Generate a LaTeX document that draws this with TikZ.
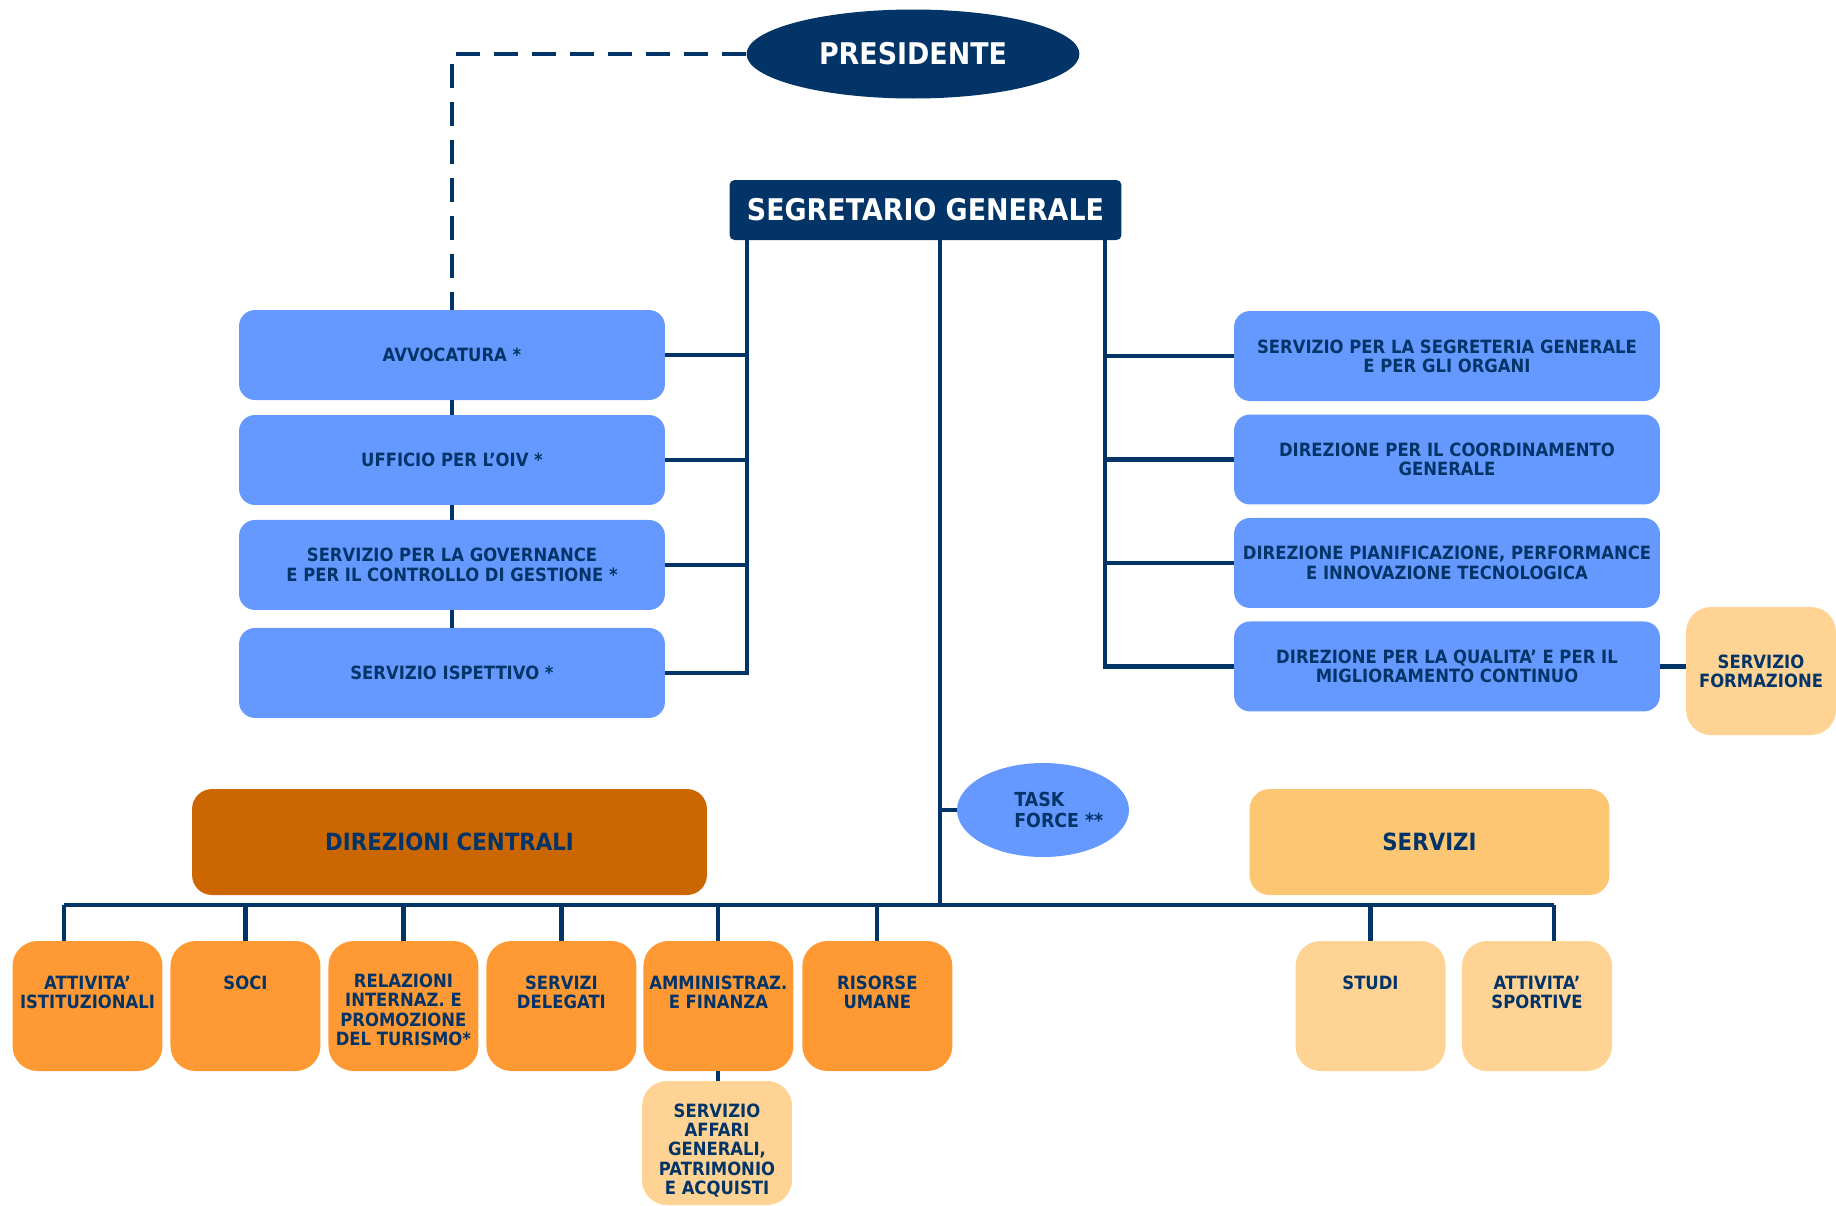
\documentclass[tikz,border=0pt]{standalone}
\usepackage{fontspec}
\setmainfont{DejaVu Sans}[FakeStretch=0.9]
\usetikzlibrary{positioning,shapes.geometric}
\definecolor{navy}{RGB}{3,52,104}
\definecolor{azzurro}{RGB}{102,153,255}
\definecolor{arancio}{RGB}{255,153,51}
\definecolor{ruggine}{RGB}{204,102,0}
\definecolor{sabbia}{RGB}{253,198,114}
\definecolor{crema}{RGB}{254,211,148}

\begin{document}
\begin{tikzpicture}[x=0.02cm,y=-0.02cm,on grid,
  every node/.style={font=\bfseries\fontsize{10.4}{11}\selectfont,text=navy,align=center},
  vertice/.style={fill=navy,text=white,font=\bfseries\fontsize{17}{20}\selectfont,inner sep=0pt},
  ufficio/.style={fill=azzurro,rounded corners=0.32cm,minimum width=8.52cm,minimum height=1.8cm,inner sep=1pt},
  settore/.style={rounded corners=0.5cm,minimum width=3cm,minimum height=2.6cm,inner sep=0pt},
  area/.style={rounded corners=0.4cm,minimum width=#1,minimum height=2.12cm,font=\bfseries\fontsize{13.5}{16}\selectfont},
  etichetta/.style={anchor=north,inner sep=0pt},
  conn/.style={draw=navy,line width=2.4pt},
  tratteggio/.style={conn,dash pattern=on 0.48cm off 0.28cm}]
   \useasboundingbox (0,0) rectangle (1836,1205);

   \node[vertice,ellipse,minimum width=6.66cm,minimum height=1.78cm] (pres) at (913,54) {PRESIDENTE};
   \node[vertice,rounded corners=0.1cm,minimum width=7.84cm,minimum height=1.2cm] (sg) at (925.5,210) {SEGRETARIO GENERALE};

   \node[ufficio] (avv) at (452,355) {AVVOCATURA *};
   \node[ufficio] (oiv) [below=2.1cm of avv] {UFFICIO PER L’OIV *};
   \node[ufficio] (gov) [below=2.1cm of oiv] {SERVIZIO PER LA GOVERNANCE\\E PER IL CONTROLLO DI GESTIONE *};
   \node[ufficio] (isp) [below=2.16cm of gov] {SERVIZIO ISPETTIVO *};

   \node[ufficio] (segr) at (1447,356) {SERVIZIO PER LA SEGRETERIA GENERALE\\E PER GLI ORGANI};
   \node[ufficio] (coord) [below=2.07cm of segr] {DIREZIONE PER IL COORDINAMENTO\\GENERALE};
   \node[ufficio] (pian) [below=2.07cm of coord] {DIREZIONE PIANIFICAZIONE, PERFORMANCE\\E INNOVAZIONE TECNOLOGICA};
   \node[ufficio] (qual) [below=2.07cm of pian] {DIREZIONE PER LA QUALITA’ E PER IL\\MIGLIORAMENTO CONTINUO};
   \node[settore,fill=crema,minimum height=2.56cm] (form) at (1761,671) {SERVIZIO\\FORMAZIONE};

   \node[ellipse,fill=azzurro,minimum width=3.44cm,minimum height=1.88cm] (tf) at (1043,810) {};
   \node[anchor=west,align=left,inner sep=0pt,font=\bfseries\fontsize{11}{12}\selectfont] (tf-t) at ([xshift=-0.58cm]tf.center) {TASK\\FORCE **};

   \node[area=10.3cm,fill=ruggine] (dc) at (449.5,842) {DIREZIONI CENTRALI};
   \node[area=7.2cm,fill=sabbia] (serv) at (1429.5,842) {SERVIZI};

   \node[settore,fill=arancio] (ist) at (87.5,1006) {};
   \node[settore,fill=arancio] (soci) [right=3.16cm of ist] {};
   \node[settore,fill=arancio] (rel) [right=3.16cm of soci] {};
   \node[settore,fill=arancio] (del) [right=3.16cm of rel] {};
   \node[settore,fill=arancio] (amm) [right=3.14cm of del] {};
   \node[settore,fill=arancio] (ru) [right=3.18cm of amm] {};
   \node[settore,fill=crema,minimum height=2.48cm] (aff) at (717,1143) {};
   \node[settore,fill=crema] (studi) at (1370.5,1006) {};
   \node[settore,fill=crema] (sport) [right=3.33cm of studi] {};

   \node[etichetta] (ist-t) at ([yshift=-0.7cm]ist.north) {ATTIVITA’\\ISTITUZIONALI};
   \node[etichetta] (soci-t) at ([yshift=-0.7cm]soci.north) {SOCI};
   \node[etichetta] (rel-t) at ([yshift=-0.66cm]rel.north) {RELAZIONI\\INTERNAZ. E\\PROMOZIONE\\DEL TURISMO*};
   \node[etichetta] (del-t) at ([yshift=-0.7cm]del.north) {SERVIZI\\DELEGATI};
   \node[etichetta] (amm-t) at ([yshift=-0.7cm]amm.north) {AMMINISTRAZ.\\E FINANZA};
   \node[etichetta] (ru-t) at ([yshift=-0.7cm]ru.north) {RISORSE\\UMANE};
   \node[etichetta] (aff-t) at ([yshift=-0.45cm]aff.north) {SERVIZIO\\AFFARI\\GENERALI,\\PATRIMONIO\\E ACQUISTI};
   \node[etichetta] (studi-t) at ([yshift=-0.7cm]studi.north) {STUDI};
   \node[etichetta] (sport-t) at ([yshift=-0.7cm]sport.north) {ATTIVITA’\\SPORTIVE};

   \coordinate (lx) at (747,0);
   \coordinate (cx) at (940,0);
   \coordinate (rx) at (1105,0);
   \coordinate (busl) at (64,905);
   \coordinate (busr) at (1554,905);

   \draw[tratteggio] (pres.west) -| (avv.north);
   \draw[conn] (avv.south) -- (oiv.north) (oiv.south) -- (gov.north) (gov.south) -- (isp.north);

   \draw[conn] (sg.south -| lx) |- (isp.east);
   \foreach \n in {avv,oiv,gov}
     \draw[conn] (\n.east) -- (\n.east -| lx);
   \draw[conn] (sg.south -| rx) |- (qual.west);
   \foreach \n in {segr,coord,pian}
     \draw[conn] (\n.west) -- (\n.west -| rx);
   \draw[conn] (qual.east) -- (qual.east -| form.west);

   \draw[conn] (sg.south -| cx) -- (cx |- busl);
   \draw[conn] (cx |- tf.west) -- (tf.west);
   \draw[conn] (busl) -- (busr);
   \draw[conn] (busl) -- (busl |- ist.north);
   \foreach \n in {soci,rel,del,amm,ru,studi}
     \draw[conn] (\n.north) -- (\n.north |- busl);
   \draw[conn] (busr) -- (busr |- sport.north);
   \draw[conn] (amm.south) -- (amm.south |- aff.north);
\end{tikzpicture}
\end{document}
